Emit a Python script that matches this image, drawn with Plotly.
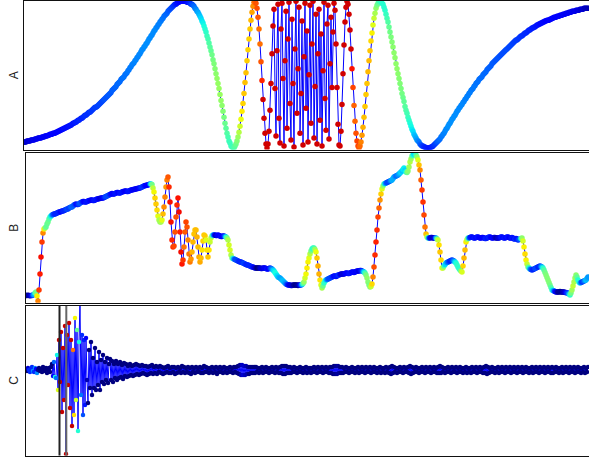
import numpy as np
import plotly.graph_objects as go

# ---------------- data (one sample per pixel column) ----------------
A_VALUES = [
    6, 6, 6, 7, 7, 7, 7, 8, 8, 8,
    8, 9, 9, 9, 10, 10, 10, 10, 11, 11,
    11, 12, 12, 12, 13, 13, 14, 14, 14, 15,
    15, 15, 16, 16, 17, 17, 18, 18, 19, 19,
    20, 20, 21, 21, 22, 22, 23, 23, 24, 25,
    25, 26, 26, 27, 28, 28, 29, 30, 30, 31,
    32, 33, 33, 34, 35, 36, 36, 37, 38, 39,
    40, 41, 41, 42, 43, 44, 45, 46, 47, 48,
    49, 50, 51, 52, 53, 54, 55, 56, 58, 59,
    60, 61, 62, 64, 65, 66, 67, 69, 70, 71,
    72, 74, 75, 76, 78, 79, 81, 82, 84, 85,
    86, 88, 89, 91, 92, 94, 95, 97, 99, 100,
    102, 103, 105, 106, 108, 110, 111, 113, 114, 116,
    118, 119, 121, 122, 124, 125, 127, 128, 130, 131,
    133, 134, 135, 136, 138, 139, 140, 141, 142, 143,
    144, 145, 145, 146, 147, 147, 148, 148, 148, 148,
    148, 148, 148, 147, 147, 147, 146, 145, 145, 144,
    143, 141, 140, 138, 137, 135, 133, 131, 128, 126,
    123, 120, 117, 113, 110, 106, 102, 98, 94, 89,
    85, 80, 75, 70, 65, 60, 54, 48, 43, 37,
    31, 25, 20, 15, 11, 7, 5, 2, 1, 0,
    0, 2, 4, 7, 11, 16, 22, 29, 37, 45,
    55, 66, 76, 88, 99, 110, 120, 129, 137, 143,
    147, 148, 146, 141, 132, 120, 105, 87, 68, 49,
    30, 15, 4, 0, 4, 17, 38, 65, 95, 123,
    140, 60, 12, 98, 145, 30, 5, 120, 146, 70,
    2, 88, 138, 20, 110, 147, 45, 8, 130, 65,
    1, 100, 148, 35, 80, 142, 15, 55, 128, 3,
    92, 146, 40, 118, 6, 74, 144, 25, 105, 148,
    10, 62, 135, 4, 95, 140, 28, 115, 2, 78,
    147, 50, 18, 125, 144, 9, 85, 132, 61, 117,
    146, 139, 105, 61, 24, 3, 2, 17, 44, 75,
    104, 127, 142, 148, 145, 135, 119, 100, 80, 61,
    43, 27, 15, 7, 2, 0, 2, 6, 13, 21,
    31, 42, 54, 65, 77, 88, 98, 108, 116, 124,
    131, 136, 141, 144, 146, 148, 148, 148, 146, 145,
    142, 139, 135, 131, 127, 122, 117, 112, 107, 102,
    96, 91, 85, 80, 75, 70, 65, 60, 55, 51,
    47, 42, 38, 35, 31, 28, 25, 22, 19, 17,
    14, 12, 10, 8, 7, 6, 4, 3, 2, 2,
    1, 1, 0, 0, 0, 0, 0, 1, 1, 2,
    3, 4, 5, 6, 7, 8, 9, 11, 12, 14,
    15, 17, 19, 20, 22, 24, 25, 27, 29, 30,
    32, 33, 35, 37, 38, 40, 41, 43, 44, 46,
    47, 49, 50, 52, 53, 55, 56, 58, 59, 60,
    62, 63, 65, 66, 67, 69, 70, 71, 72, 74,
    75, 76, 77, 79, 80, 81, 82, 83, 85, 86,
    87, 88, 89, 90, 91, 92, 93, 94, 95, 96,
    97, 98, 99, 100, 101, 102, 103, 104, 105, 106,
    107, 108, 109, 109, 110, 111, 112, 113, 113, 114,
    115, 116, 116, 117, 118, 119, 119, 120, 121, 121,
    122, 122, 123, 124, 124, 125, 125, 126, 126, 127,
    127, 128, 128, 129, 129, 129, 130, 130, 131, 131,
    132, 132, 132, 133, 133, 133, 134, 134, 134, 135,
    135, 135, 136, 136, 136, 137, 137, 137, 138, 138,
    138, 138, 139, 139, 139, 139, 140, 140, 140, 140,
    141, 141, 141, 141, 141,
]

B_VALUES = [
    6.5, 6.6, 6.8, 6.5, 6.3, 6.5, 6.6, 7, 7.5, 9,
    10, 6, 1, 12, 28, 45, 60, 69, 73, 74,
    75, 78, 80, 83, 85, 86, 87, 87.5, 88, 88,
    88.5, 89, 89.5, 90, 90, 90.5, 91, 91, 91.5, 92,
    92.5, 93, 93, 94, 94.5, 95, 95, 96, 97, 97.5,
    98, 97.5, 97.5, 98, 99, 99.5, 100, 100.5, 100.5, 100,
    100, 100.5, 101, 101.5, 101.5, 102, 102, 101.5, 101.5, 102,
    102.5, 103, 103, 103.5, 103.5, 104, 104, 104, 104.5, 105,
    105.5, 106, 106.5, 107, 107.5, 108, 108.5, 108, 108, 108.5,
    109, 109.5, 109.5, 109, 109, 109.5, 110, 110.5, 110.5, 111,
    111, 110.5, 110.5, 111, 111.5, 112, 112, 112.5, 112.5, 113,
    113, 113.5, 113.5, 114, 114, 114.5, 115, 115.5, 116, 116.5,
    116.5, 117, 117, 117.5, 118, 118, 117.5, 114, 110, 104,
    98, 92, 86, 82, 80, 80, 82, 88, 95, 105,
    115, 122, 125, 115, 100, 80, 62, 55, 56, 70,
    85, 97, 104, 90, 70, 50, 38, 42, 55, 70,
    80, 75, 62, 48, 40, 43, 50, 60, 68, 72,
    72, 65, 55, 45, 40, 44, 52, 61, 67, 66,
    62, 52, 45, 52, 60, 64, 66, 67, 67, 67,
    66.5, 66.5, 67, 66.5, 66, 65.5, 65.5, 66, 66, 65.5,
    65, 64, 62, 57, 52, 47, 44, 43.5, 43, 42.5,
    42, 41.5, 41, 40.5, 40, 40, 39.5, 39, 38.5, 38,
    37.5, 37, 37, 36.5, 36, 35.5, 35, 35, 34.5, 34,
    34, 34, 34, 34, 34, 33.5, 33.5, 34, 34, 34,
    33.5, 33, 33, 33.5, 34, 33.5, 33, 32, 31, 29.5,
    28, 26.5, 25, 24.5, 24, 23, 22, 21, 20, 19,
    18, 17.5, 17, 17, 17, 16.5, 16.5, 17, 17, 17,
    17, 17, 16.5, 17, 17, 17, 17.5, 18.5, 20, 24,
    28, 34, 40, 44, 48, 51, 53, 54, 54, 52.5,
    50, 44, 36, 28, 22, 17, 14, 16, 19, 21,
    22, 22.5, 23, 23.5, 24, 24.5, 25, 25.5, 26, 26,
    25.5, 26, 27, 27, 27.5, 28, 28, 28, 28, 28.5,
    29, 29, 28.5, 28.5, 29, 29.5, 30, 30, 29.5, 30,
    30.5, 31, 31, 31, 31.5, 31.5, 31, 30.5, 30, 29,
    27, 24, 20, 17, 15, 15.5, 18, 25, 35, 47,
    60, 72, 85, 94, 102, 108, 113, 116, 118, 118.5,
    119, 119.5, 120, 120.5, 121, 121.5, 122, 123.5, 125, 125.5,
    126, 126.5, 127, 128, 129, 130, 131, 132.5, 134, 132,
    130, 129.5, 131, 135, 140, 143, 146, 147, 148, 148,
    147, 145, 142, 137, 132, 122, 112, 100, 87, 75,
    68, 65, 64, 64, 64, 64.5, 64.5, 64, 64, 64,
    64, 63, 62, 57, 50, 42, 34, 34, 36, 37.5,
    39, 39.5, 40, 40.5, 41, 41.5, 42, 41.5, 41, 40,
    39, 37, 35, 33.5, 32, 31, 30, 36, 44, 52,
    60, 62.5, 64, 64, 64.5, 65, 65, 64.5, 64, 64,
    64.5, 65, 65, 64.5, 64, 64, 64.5, 64.5, 64, 63.5,
    63.5, 64, 64.5, 65, 65, 64.5, 64, 64, 64.5, 64.5,
    64, 64, 64, 64, 64.5, 65, 65, 64.5, 64, 64,
    64.5, 65, 65, 64.5, 64, 64, 64.5, 64, 63, 63,
    63.5, 63, 62, 62.5, 63, 63.5, 64, 61, 55, 48,
    42, 38, 35, 34, 33, 32.5, 32, 32.5, 33, 33.5,
    34, 34.5, 35, 35.5, 36, 35.5, 35, 34, 32, 29.5,
    27, 24.5, 22, 19.5, 17, 14.5, 12, 11.5, 11, 10.5,
    10, 10, 10, 10, 10.5, 10, 10, 10, 10, 9.5,
    9.5, 9, 9, 8, 7, 9, 12, 16, 20, 24,
    27, 25, 22, 20, 19, 19.5, 20, 20.5, 21, 21.5,
    22, 23.5, 25,
]

C_VALUES = [
    1, -1, 2, 0, -2, 1, 3, -1, -2, 2, 1, -3, 0, 2, -1, 1, -2, 3, -1, 0, 2, -3, 1, 2, -2, 3, 6, -6, 8, -7,
    -8, 15, -20, 30, -12, 38, -42, 22, -30, 44, -84, 35, -15, 47, -38, 30, -56, 20, -45, 52, -30, 40, -61, 28, 70, -25, 35, -45, 30, -35,
    32, -10, -33, 20, -18, 28, -25, 12, -18, 22, -20, 8, -15, 18, -20, 10, -12, 15, -14, 8, -10, 12, -13, 6, 11, -10, 9, -12, 6, -8,
    9, -10, 6, -8, 8, -7, 5, -9, 7, -6, 6, -7, 4, -6, 6, -5, 4, -6, 5, -5, 6, -4, 5, -5, 4, -4, 5, -3, 4, -4,
    4, -5, 3, -4, 4, -3, 5, -4, 3, -3, 4, -4, 3, -2, 4, -3, 3, -4, 2, -3, 3, -2, 4, -3, 2, -3, 3, -2, 3, -4,
    2, -3, 3, -2, 2, -3, 4, -2, 3, -3, 2, -2, 3, -3, 2, -4, 3, -2, 2, -3, 3, -2, 2, -2, 3, -3, 2, -3, 4, -2,
    3, -2, 2, -3, 2, -2, 3, -3, 2, -2, 3, -4, 2, -2, 3, -2, 2, -3, 3, -2, 2, -3, 2, -2, 3, -2, 2, -3, 3, -2,
    3, -3, 4, -4, 5, -5, 5, -5, 4, -5, 4, -4, 3, -4, 3, -3, 3, -3, 3, -3, 3, -2, 2, -3, 2, -2, 3, -3, 2, -2,
    3, -2, 2, -3, 2, -2, 3, -2, 2, -3, 3, -2, 2, -3, 3, -3, 4, -4, 4, -4, 4, -3, 3, -3, 3, -3, 2, -2, 3, -2,
    2, -3, 2, -2, 3, -2, 2, -3, 2, -2, 3, -3, 2, -2, 2, -3, 2, -2, 3, -2, 2, -3, 3, -2, 2, -2, 3, -3, 2, -2,
    3, -2, 2, -3, 3, -3, 3, -4, 4, -4, 4, -4, 4, -3, 3, -3, 3, -3, 2, -2, 3, -2, 2, -3, 2, -2, 3, -2, 2, -3,
    2, -2, 3, -3, 2, -2, 3, -2, 2, -3, 3, -2, 2, -2, 3, -3, 2, -2, 3, -2, 2, -3, 2, -2, 3, -3, 2, -2, 2, -3,
    3, -2, 2, -3, 3, -4, 4, -3, 3, -2, 2, -3, 2, -2, 3, -2, 2, -3, 3, -2, 2, -2, 3, -3, 4, -4, 3, -3, 2, -2,
    3, -2, 2, -3, 2, -2, 3, -2, 2, -3, 3, -2, 2, -2, 3, -3, 2, -2, 3, -2, 2, -3, 3, -3, 4, -3, 3, -2, 2, -3,
    2, -2, 3, -2, 2, -3, 3, -2, 2, -2, 3, -3, 2, -2, 3, -2, 2, -3, 2, -2, 3, -3, 2, -2, 2, -3, 3, -2, 2, -2,
    3, -3, 2, -2, 3, -2, 2, -3, 3, -3, 4, -4, 3, -3, 2, -2, 3, -2, 2, -3, 2, -2, 3, -3, 2, -2, 3, -2, 2, -3,
    3, -2, 2, -2, 3, -3, 2, -2, 3, -2, 2, -3, 3, -2, 2, -2, 3, -3, 2, -2, 3, -2, 2, -3, 2, -2, 3, -3, 2, -2,
    3, -2, 2, -3, 3, -2, 2, -2, 3, -3, 2, -2, 3, -2, 2, -3, 3, -3, 2, -2, 3, -2, 2, -3, 2, -2, 3, -3, 2, -2,
    3, -2, 2, -3, 3, -2, 2, -2, 3, -3, 2, -2, 3, -2, 2, -3, 2, -2, 3, -3, 2, -2, 3,
]

C_PICKS = [33.5, 40.3]          # sample positions of the two picks in panel C
PANEL_LABELS = ["A", "B", "C"]

# ---------------- colour quantities derived from the data ----------------
JET = [
    [0.0, "rgb(0,0,128)"], [0.11, "rgb(0,0,255)"], [0.125, "rgb(0,0,255)"],
    [0.34, "rgb(0,219,255)"], [0.35, "rgb(0,230,247)"], [0.375, "rgb(21,255,226)"],
    [0.64, "rgb(239,255,8)"], [0.65, "rgb(247,245,0)"], [0.66, "rgb(255,236,0)"],
    [0.89, "rgb(255,19,0)"], [0.91, "rgb(232,0,0)"], [1.0, "rgb(128,0,0)"],
]


def abs_slope(v):
    return np.abs(np.gradient(np.asarray(v, float)))


def smooth(v, n):
    return np.convolve(v, np.ones(n) / n, mode="same")


a = np.asarray(A_VALUES, float)
b = np.asarray(B_VALUES, float)
c = np.asarray(C_VALUES, float)

A_CMAX = 5.0
a_col = np.minimum(smooth(abs_slope(a), 17) ** 0.6, 0.93 * A_CMAX)

B_CMIN, B_CMAX = -1.0, 3.0
b_col = np.minimum(np.log(smooth(abs_slope(b), 5) + 0.3), B_CMIN + 0.94 * (B_CMAX - B_CMIN))

C_CMIN, C_CMAX = 1.2, 8.0
d = np.abs(np.diff(c, prepend=c[0]))
c_col = np.zeros(len(c))
for i in range(len(c)):
    sta = d[max(0, i - 2):i + 1].mean()
    lo, hi = max(0, i - 50), max(1, i - 10)
    lta = d[lo:hi].mean() + 1.0
    c_col[i] = sta / lta
c_col = np.minimum(c_col, C_CMIN + 0.94 * (C_CMAX - C_CMIN))

W, H = 589, 462


def ydom(top, bot):
    return [1 - bot / H, 1 - top / H]


fig = go.Figure()


def add_panel(vals, col, cmin, cmax, k, msize):
    x = np.arange(len(vals))
    fig.add_trace(go.Scatter(
        x=x, y=vals, mode="lines+markers",
        line=dict(color="#0000ff", width=1),
        marker=dict(size=msize, color=col, colorscale=JET, cmin=cmin, cmax=cmax,
                    line=dict(width=0)),
        xaxis="x" if k == 1 else f"x{k}", yaxis="y" if k == 1 else f"y{k}",
        hoverinfo="skip", showlegend=False,
    ))


add_panel(a, a_col, 0.0, A_CMAX, 1, 5.5)
add_panel(b, b_col, B_CMIN, B_CMAX, 2, 5.5)
add_panel(c, c_col, C_CMIN, C_CMAX, 3, 4.5)

axis_common = dict(showline=True, linecolor="#111", linewidth=1.3, showticklabels=False,
                   ticks="", showgrid=False, zeroline=False, fixedrange=True)

fig.update_layout(
    width=W, height=H, margin=dict(l=0, r=0, t=0, b=0),
    paper_bgcolor="white", plot_bgcolor="white", showlegend=False,
    xaxis=dict(domain=[24 / W, 1], anchor="y", range=[0, 565], mirror=True, **axis_common),
    yaxis=dict(domain=ydom(0.8, 149.5), anchor="x", range=[-1.5, 148.5], **axis_common),
    xaxis2=dict(domain=[26 / W, 1], anchor="y2", range=[0, 563], mirror=True, **axis_common),
    yaxis2=dict(domain=ydom(153, 302.7), anchor="x2", range=[-0.7, 149], **axis_common),
    xaxis3=dict(domain=[26 / W, 1], anchor="y3", range=[0, 563], mirror=True, **axis_common),
    yaxis3=dict(domain=ydom(306, 455.5), anchor="x3", range=[-85.5, 64], **axis_common),
)

pick_colors = ["#222222", "#666666"]
for xv, colr in zip(C_PICKS, pick_colors):
    fig.add_shape(type="line", xref="x3", yref="y3 domain", x0=xv, x1=xv, y0=0, y1=1,
                  line=dict(color=colr, width=2), layer="above")

centers = [(0.8 + 149.5) / 2, (153 + 302.7) / 2, (306 + 455.5) / 2]
for lab, cy in zip(PANEL_LABELS, centers):
    fig.add_annotation(text=lab, x=14 / W, y=1 - cy / H, xref="paper", yref="paper",
                       showarrow=False, textangle=-90, xanchor="center", yanchor="middle",
                       font=dict(family="Liberation Sans, Arial, sans-serif", size=12, color="#222"))

fig.write_html("out.html", config={"displayModeBar": False},
               post_script="document.body.style.margin='0';document.body.style.overflow='hidden';")
